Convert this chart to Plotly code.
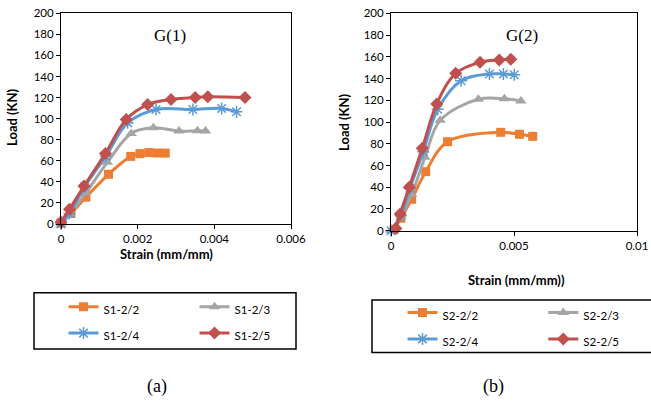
import plotly.graph_objects as go

# ---------------- data ----------------
series_names_g1 = ["S1-2/2", "S1-2/3", "S1-2/4", "S1-2/5"]
series_names_g2 = ["S2-2/2", "S2-2/3", "S2-2/4", "S2-2/5"]

g1_s22_x = [0, 0.00026, 0.00065, 0.00124, 0.00182, 0.00206, 0.00229, 0.00251, 0.00272]
g1_s22_y = [1, 10, 25.5, 47.2, 64.2, 66.8, 67.8, 67.4, 67.3]
g1_s23_x = [0, 0.00023, 0.00065, 0.00121, 0.00183, 0.00241, 0.00308, 0.00356, 0.00377]
g1_s23_y = [0, 9, 29.7, 58.5, 86, 91.3, 88.2, 88.4, 88.2]
g1_s24_x = [0, 0.00022, 0.00062, 0.00117, 0.00174, 0.00248, 0.00344, 0.00419, 0.00458]
g1_s24_y = [0, 10, 35.4, 64.4, 96, 108.7, 108.7, 109.7, 106.5]
g1_s25_x = [0, 0.00022, 0.0006, 0.00116, 0.0017, 0.00226, 0.00287, 0.0035, 0.00383, 0.0048]
g1_s25_y = [2, 14, 36, 67, 99.2, 113.4, 118.2, 120.1, 120.7, 120.1]

g2_s22_x = [0.00013, 0.0004, 0.00084, 0.00141, 0.0023, 0.00446, 0.00522, 0.00576]
g2_s22_y = [1.3, 11.4, 28.9, 54.3, 81.9, 90.5, 88.7, 86.8]
g2_s23_x = [0, 0.0004, 0.00084, 0.00138, 0.002, 0.00355, 0.00461, 0.00528]
g2_s23_y = [0, 13.5, 33.5, 67.5, 101.5, 120.9, 121.4, 119.3]
g2_s24_x = [0, 0.0004, 0.00077, 0.00131, 0.0019, 0.00285, 0.004, 0.00457, 0.00501]
g2_s24_y = [0, 13.8, 39, 72.7, 111.8, 138, 144.2, 144.2, 143.5]
g2_s25_x = [0.0002, 0.00037, 0.00074, 0.00127, 0.00186, 0.00263, 0.00362, 0.0044, 0.00487]
g2_s25_y = [2, 15.4, 39.9, 75.8, 116.6, 144.8, 154.9, 157, 157.7]

g1_xticks = [0, 0.002, 0.004, 0.006]
g1_xticktext = ["0", "0.002", "0.004", "0.006"]
g2_xticks = [0, 0.005, 0.01]
g2_xticktext = ["0", "0.005", "0.01"]
y_ticks = list(range(0, 201, 20))

# ---------------- styles ----------------
colors = ["#ED7D31", "#A5A5A5", "#5B9BD5", "#C0504D"]
symbols = ["square", "triangle-up", "asterisk-open", "diamond"]
msizes = [9, 10, 10, 10]
groups = ["a", "b", "a", "b"]

W, H = 651, 401
def px(x):
    return x / W
def py(y):
    return 1 - y / H

fig = go.Figure()

g1 = [(g1_s22_x, g1_s22_y), (g1_s23_x, g1_s23_y), (g1_s24_x, g1_s24_y), (g1_s25_x, g1_s25_y)]
g2 = [(g2_s22_x, g2_s22_y), (g2_s23_x, g2_s23_y), (g2_s24_x, g2_s24_y), (g2_s25_x, g2_s25_y)]

def nm(s):
    return '<span style="font-size:11.5px">' + s + '</span>'

for i, (xs, ys) in enumerate(g1):
    fig.add_trace(go.Scatter(
        x=xs, y=ys, name=nm(series_names_g1[i]), mode="lines+markers",
        line=dict(color=colors[i], width=3, shape="spline", smoothing=1),
        marker=dict(symbol=symbols[i], size=msizes[i], color=colors[i],
                    line=dict(color=colors[i], width=1.5 if i == 2 else 0)),
        cliponaxis=False, xaxis="x", yaxis="y", legend="legend",
        legendgroup="g1" + groups[i]))

for i, (xs, ys) in enumerate(g2):
    fig.add_trace(go.Scatter(
        x=xs, y=ys, name=nm(series_names_g2[i]), mode="lines+markers",
        line=dict(color=colors[i], width=3, shape="spline", smoothing=1),
        marker=dict(symbol=symbols[i], size=msizes[i], color=colors[i],
                    line=dict(color=colors[i], width=1.5 if i == 2 else 0)),
        cliponaxis=False, xaxis="x2", yaxis="y2", legend="legend2",
        legendgroup="g2" + groups[i]))

tickfont = dict(family="Lato", size=11.5, color="#000")
axis_common = dict(showline=True, linecolor="#000", linewidth=1, mirror=True,
                   ticks="outside", ticklen=4, tickcolor="#000", tickwidth=1,
                   showgrid=False, zeroline=False, tickfont=tickfont, fixedrange=True)

fig.update_layout(
    width=W, height=H, margin=dict(l=0, r=0, t=0, b=0, autoexpand=False),
    paper_bgcolor="white", plot_bgcolor="white",
    xaxis=dict(domain=[px(61), px(291)], range=[0, 0.006], tickvals=g1_xticks,
               ticktext=g1_xticktext, anchor="y", **axis_common),
    yaxis=dict(domain=[py(224), py(13.3)], range=[0, 200], tickvals=y_ticks,
               anchor="x", **axis_common),
    xaxis2=dict(domain=[px(391), px(637)], range=[0, 0.01], tickvals=g2_xticks,
                ticktext=g2_xticktext, anchor="y2", **axis_common),
    yaxis2=dict(domain=[py(230.7), py(13.3)], range=[0, 200], tickvals=y_ticks,
                anchor="x2", **axis_common),
    legend=dict(orientation="h", traceorder="grouped", x=px(63.5), xanchor="left",
                y=py(288.5), yanchor="top", bgcolor="rgba(0,0,0,0)", borderwidth=0,
                font=dict(family="Lato", size=18, color="#000"),
                entrywidth=86, entrywidthmode="pixels"),
    legend2=dict(orientation="h", traceorder="grouped", x=px(402.5), xanchor="left",
                 y=py(294.3), yanchor="top", bgcolor="rgba(0,0,0,0)", borderwidth=0,
                 font=dict(family="Lato", size=18, color="#000"),
                 entrywidth=95.8, entrywidthmode="pixels"),
    showlegend=True,
)

title_font = dict(family="Lato", size=13, color="#000")
serif = dict(family="Liberation Serif", size=17, color="#000")
ann = [
    dict(text="G(1)", x=px(170), y=py(36), font=serif),
    dict(text="G(2)", x=px(522), y=py(35), font=serif),
    dict(text="<b>Load (KN)</b>", x=px(12), y=py(117), font=title_font, textangle=-90),
    dict(text="<b>Load (KN)</b>", x=px(344), y=py(122), font=title_font, textangle=-90),
    dict(text="<b>Strain (mm/mm)</b>", x=px(166.5), y=py(254), font=title_font),
    dict(text="<b>Strain (mm/mm))</b>", x=px(516.5), y=py(280), font=title_font),
    dict(text="(a)", x=px(157), y=py(386), font=dict(family="Liberation Serif", size=18, color="#000")),
    dict(text="(b)", x=px(493), y=py(386), font=dict(family="Liberation Serif", size=18, color="#000")),
]
for a in ann:
    fig.add_annotation(xref="paper", yref="paper", showarrow=False,
                       xanchor="center", yanchor="middle", **a)

# legend frames
fig.add_shape(type="rect", xref="paper", yref="paper",
              x0=px(34), x1=px(296), y0=py(349), y1=py(292.7),
              line=dict(color="#000", width=1.5))
fig.add_shape(type="rect", xref="paper", yref="paper",
              x0=px(372), x1=px(656), y0=py(352.5), y1=py(300),
              line=dict(color="#000", width=1.5))

fig.write_html("out.html")
